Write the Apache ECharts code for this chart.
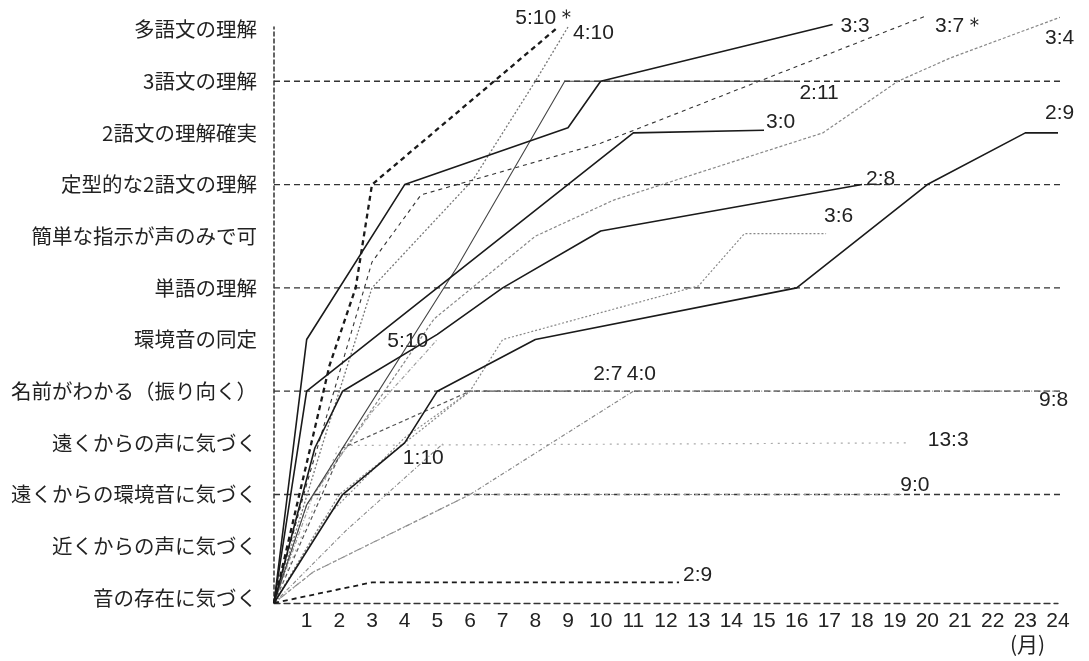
<!DOCTYPE html>
<html><head><meta charset="utf-8">
<script src="https://cdn.jsdelivr.net/npm/echarts@6/dist/echarts.min.js"></script>
<style>html,body{margin:0;padding:0;background:#fff}#c{width:1089px;height:661px}</style>
</head><body><div id="c"></div>
<script>
// ---- data ----
const monthTicks = [1,2,3,4,5,6,7,8,9,10,11,12,13,14,15,16,17,18,19,20,21,22,23,24];
const levelLabels = ['音の存在に気づく','近くからの声に気づく','遠くからの環境音に気づく','遠くからの声に気づく','名前がわかる（振り向く）','環境音の同定','単語の理解','簡単な指示が声のみで可','定型的な2語文の理解','2語文の理解確実','3語文の理解','多語文の理解'];
const levelTicks = [0,1,2,3,4,5,6,7,8,9,10,11];
const gridLevels = [2,4,6,8,10];
const gridSpan = [0,24.1];

const p5_10s = [[0,-0.1],[1.7,4.5],[2.5,6],[3,8],[8.7,11.05]];
const p4_10 = [[0,-0.1],[1.5,3],[3,6],[6.1,8.1],[8,10],[9,11.05]];
const p3_3 = [[0,-0.1],[1,5],[4,8],[9,9.1],[10,10],[17.1,11.1]];
const p3_7s = [[0,-0.1],[1,2.2],[3,6.5],[4.5,7.8],[10,8.8],[19.9,11.25]];
const p3_4 = [[0,-0.1],[1,1.8],[4.9,5.4],[8,7],[10.4,7.7],[16.8,9],[19.1,10],[20.7,10.45],[24.2,11.27]];
const p2_11 = [[0,-0.1],[1,1.8],[5.6,6.4],[8.9,10],[15.9,10]];
const p3_0 = [[0,-0.1],[1,4],[11,9],[15,9.05]];
const p2_9a = [[0,-0.1],[2.1,2],[4,3],[5,4],[8,5],[16,6],[20,8],[23,9],[24,9]];
const p2_8 = [[0,-0.1],[1.25,2.9],[2.1,4],[5,5.1],[7,6],[10,7.1],[18,8]];
const p3_6 = [[0,-0.1],[2,2],[6,4],[7,5],[13,6.04],[14.4,7.05],[16.9,7.05]];
const p5_10 = [[0,-0.1],[1.2,2],[3,3.6],[5,5]];
const p2_7 = [[0,-0.1],[2.1,2.9],[6,4],[9.8,4]];
const p4_0 = [[0,-0.1],[1.5,1.5],[4,3.1],[6,4],[10.8,4]];
const p1_10 = [[0,-0.1],[2.2,1.3],[5.2,3]];
const p9_8 = [[0,-0.1],[1.2,0.5],[6,2],[11,4],[24.1,4]];
const p13_3 = [[0,-0.1],[2,2.95],[19.4,3]];
const p9_0 = [[0,-0.1],[1.2,0.5],[6,2],[19.2,2]];
const p2_9b = [[0,-0.1],[3,0.3],[12.4,0.3]];

// ---- styles ----
const BLACK = '#1a1a1a';
const defs = [
  {name:'5:10＊', data:p5_10s, c:BLACK, w:2.3, t:[5,4], off:[-43,-9], z:5},
  {name:'4:10', data:p4_10, c:'#777', w:1.3, t:[2,2], off:[5,6], z:3},
  {name:'3:3', data:p3_3, c:BLACK, w:1.6, t:'solid', off:[8,2], z:6},
  {name:'3:7＊', data:p3_7s, c:'#333', w:1.1, t:[4,4], off:[11,10], z:4},
  {name:'3:4', data:p3_4, c:'#888', w:1.2, t:[3,2], off:[-15,21], z:3},
  {name:'2:11', data:p2_11, c:'#444', w:1.1, t:'solid', off:[6,12], z:4},
  {name:'3:0', data:p3_0, c:BLACK, w:1.6, t:'solid', off:[2,-8], z:6},
  {name:'2:9', data:p2_9a, c:BLACK, w:1.6, t:'solid', off:[-13,-20], z:6},
  {name:'2:8', data:p2_8, c:BLACK, w:1.6, t:'solid', off:[4,-5], z:6},
  {name:'3:6', data:p3_6, c:'#888', w:1.2, t:[2,2], off:[-2,-17], z:3},
  {name:'5:10', data:p5_10, c:'#999', w:1.1, t:[4,2,1,2], off:[-50,2], z:3},
  {name:'2:7', data:p2_7, c:'#555', w:1.2, t:[4,3], off:[-1,-17], z:3},
  {name:'4:0', data:p4_0, c:'#888', w:1.1, t:[2,2], off:[0,-17], z:3},
  {name:'1:10', data:p1_10, c:'#888', w:1.1, t:[4,2,1,2], off:[-41,15], z:3},
  {name:'9:8', data:p9_8, c:'#888', w:1.2, t:[4,2,1,2], off:[-21,9], z:3},
  {name:'13:3', data:p13_3, c:'#aaa', w:1.2, t:[2,5], off:[20,-3], z:3},
  {name:'9:0', data:p9_0, c:'#999', w:1.1, t:[3,3], off:[-1,-9], z:3},
  {name:'2:9 ', data:p2_9b, c:BLACK, w:1.8, t:[5,4], off:[4,-7], z:5}
];

const numFont = "'Liberation Sans', Arial, sans-serif";
const series = [];
gridLevels.forEach(l => series.push({
  type:'line', name:'grid'+l, data:gridSpan.map(x => [x,l]), symbol:'none', clip:false, silent:true, z:1,
  lineStyle:{color:'#333', width:1.3, type:[6,4]}, emphasis:{disabled:true}
}));
defs.forEach(d => series.push({
  type:'line', name:d.name, data:d.data, symbol:'none', clip:false, z:d.z,
  lineStyle:{color:d.c, width:d.w, type:d.t},
  endLabel:{show:true, formatter:d.name.trim(), distance:0, offset:d.off, align:'left', verticalAlign:'middle',
    color:'#222', fontSize:21, fontFamily:numFont},
  emphasis:{disabled:true}
}));

const chart = echarts.init(document.getElementById('c'), null, {renderer:'canvas'});
chart.setOption({
  animation:false,
  backgroundColor:'#fff',
  grid:{left:274, right:31, top:27, bottom:58, containLabel:false},
  xAxis:{type:'value', min:0, max:24, interval:1,
    axisLine:{onZero:false, lineStyle:{color:'#333', width:1.3, type:[6,4]}},
    axisTick:{show:false}, splitLine:{show:false},
    axisLabel:{customValues:monthTicks, formatter:v=>String(v), margin:8, color:'#222', fontSize:21, fontFamily:numFont}
  },
  yAxis:{type:'value', min:-0.1, max:11.05,
    axisLine:{show:true, onZero:false, lineStyle:{color:'#333', width:1.5, type:[4,3]}},
    axisTick:{show:false}, splitLine:{show:false},
    axisLabel:{customValues:levelTicks, formatter:v=>levelLabels[Math.round(v)], margin:17, color:'#222', fontSize:20.5, fontFamily:"'Noto Sans CJK JP', sans-serif"}
  },
  graphic:[{type:'text', left:1010, top:634, style:{text:'(月)', fill:'#222', font:"21px 'Noto Sans CJK JP', sans-serif"}}],
  series:series
});
</script></body></html>
